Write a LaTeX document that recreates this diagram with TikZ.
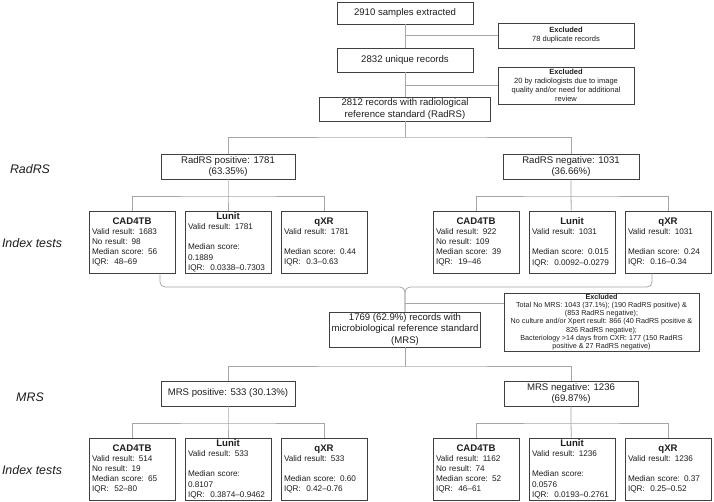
\documentclass[tikz,border=0pt]{standalone}
\usepackage{fontspec}
\setmainfont{Liberation Sans}
\usetikzlibrary{calc}

% title line of a test box, centred, then the left aligned lines
\newcommand{\testtext}[2]{{\centering\fontsize{9.6}{10.2}\selectfont\bfseries #1\par}#2}

\begin{document}
\begin{tikzpicture}[x=1pt,y=-1pt,line join=miter,
  box/.style={draw=boxln,line width=0.75pt,fill=white,text=txt,align=center,
    inner xsep=2pt,inner ysep=0.8pt,font=\fontsize{9.6}{11.2}\selectfont},
  exbox/.style={box,font=\fontsize{7.5}{9}\selectfont},
  testbox/.style={box,align=left,text width=80pt,minimum height=62pt,
    inner xsep=3pt,inner ysep=0.5pt,font=\fontsize{8.2}{10.2}\selectfont},
  tier/.style={text=txt,font=\itshape\fontsize{12.4}{14}\selectfont},
  link/.style={draw=lnk,line width=0.8pt}]
  \definecolor{boxln}{HTML}{404040}
  \definecolor{lnk}{HTML}{A6A6A6}
  \definecolor{txt}{HTML}{1E1E1E}

  \fill[white] (0,0) rectangle (714,502);
  \useasboundingbox (0,0) rectangle (714,502);

  % tier labels on the left
  \node[tier] (lblRad)  at (30,169) {RadRS};
  \node[tier] (lblIdx1) at (32,243) {Index tests};
  \node[tier] (lblMRS)  at (30,397) {MRS};
  \node[tier] (lblIdx2) at (32,470) {Index tests};

  % selection of records
  \node[box,minimum width=136pt,minimum height=22pt] (n2910) at (405,13) {2910 samples extracted};
  \node[exbox,minimum width=136pt,minimum height=25pt] (ex78) at (566,35.5)
    {\textbf{Excluded}\\78 duplicate records};
  \node[box,minimum width=136pt,minimum height=24pt] (n2832) at (405,60) {2832 unique records};
  \node[exbox,minimum width=136pt,minimum height=37pt] (ex20) at (566,85.5)
    {\textbf{Excluded}\\20 by radiologists due to image\\quality and/or need for additional\\review};
  \node[box,minimum width=171pt,minimum height=24pt] (n2812) at (405,109)
    {2812 records with radiological\\reference standard (RadRS)};

  % radiological reference standard
  \node[box,minimum width=134pt,minimum height=25pt] (radpos) at (228,166.5) {RadRS positive: 1781\\(63.35\%)};
  \node[box,minimum width=136pt,minimum height=25pt] (radneg) at (571,166.5) {RadRS negative: 1031\\(36.66\%)};

  % index tests, RadRS positive
  \node[testbox] (cadP) at (132,242) {\testtext{CAD4TB}{Valid result: 1683\\No result: 98\\Median score: 56\\IQR:~ 48--69}};
  \node[testbox] (lunP) at (228,242) {\testtext{Lunit}{Valid result: 1781\\[10.2pt]Median score:\\0.1889\\IQR:~ 0.0338--0.7303}};
  \node[testbox] (qxrP) at (324,242) {\testtext{qXR}{Valid result: 1781\\[10.2pt]Median score: 0.44\\IQR:~ 0.3--0.63}};

  % index tests, RadRS negative
  \node[testbox] (cadN) at (476,242) {\testtext{CAD4TB}{Valid result: 922\\No result: 109\\Median score: 39\\IQR:~ 19--46}};
  \node[testbox] (lunN) at (572,242) {\testtext{Lunit}{Valid result: 1031\\[10.2pt]Median score: 0.015\\IQR:~ 0.0092--0.0279}};
  \node[testbox] (qxrN) at (668,242) {\testtext{qXR}{Valid result: 1031\\[10.2pt]Median score: 0.24\\IQR:~ 0.16--0.34}};

  % microbiological reference standard
  \node[box,minimum width=147pt,minimum height=35pt] (mrs) at (405,329.5)
    {1769 (62.9\%) records with\\microbiological reference standard\\(MRS)};
  \node[exbox,minimum width=195pt,minimum height=58pt,inner ysep=0.3pt,
    font=\fontsize{7.2}{8.2}\selectfont] (exMRS) at (601.5,322)
    {\textbf{Excluded}\\Total No MRS: 1043 (37.1\%); (190 RadRS positive) \&\\(853 RadRS negative);\\
     No culture and/or Xpert result: 866 (40 RadRS positive \&\\826 RadRS negative);\\
     Bacteriology >14 days from CXR: 177 (150 RadRS\\positive \& 27 RadRS negative)};
  \node[box,minimum width=134pt,minimum height=25pt] (mrspos) at (228,393.5) {MRS positive: 533 (30.13\%)};
  \node[box,minimum width=134pt,minimum height=25pt] (mrsneg) at (571,393.5) {MRS negative: 1236\\(69.87\%)};

  % index tests, MRS positive
  \node[testbox] (cadMP) at (132,469) {\testtext{CAD4TB}{Valid result: 514\\No result: 19\\Median score: 65\\IQR:~ 52--80}};
  \node[testbox] (lunMP) at (228,469) {\testtext{Lunit}{Valid result: 533\\[10.2pt]Median score:\\0.8107\\IQR:~ 0.3874--0.9462}};
  \node[testbox] (qxrMP) at (324,469) {\testtext{qXR}{Valid result: 533\\[10.2pt]Median score: 0.60\\IQR:~ 0.42--0.76}};

  % index tests, MRS negative
  \node[testbox] (cadMN) at (476,469) {\testtext{CAD4TB}{Valid result: 1162\\No result: 74\\Median score: 52\\IQR:~ 46--61}};
  \node[testbox] (lunMN) at (572,469) {\testtext{Lunit}{Valid result: 1236\\[10.2pt]Median score:\\0.0576\\IQR:~ 0.0193--0.2761}};
  \node[testbox] (qxrMN) at (668,469) {\testtext{qXR}{Valid result: 1236\\[10.2pt]Median score: 0.37\\IQR:~ 0.25--0.52}};

  % branch points
  \coordinate (splitRad)  at (405,137);
  \coordinate (splitRadP) at (228,196);
  \coordinate (splitRadN) at (571,196);
  \coordinate (joinMRS)   at (405,287);
  \coordinate (splitEx)   at (405,303);
  \coordinate (splitMRS)  at (405,366);
  \coordinate (splitMRSP) at (228,423);
  \coordinate (splitMRSN) at (571,423);

  % connectors, top part
  \draw[link] (n2910) -- (n2832);
  \draw[link] (n2910.south |- ex78.west) -- (ex78.west);
  \draw[link] (n2832) -- (n2812);
  \draw[link] (n2832.south |- ex20.west) -- (ex20.west);
  \draw[link] (n2812) -- (splitRad);
  \draw[link] (radpos.north) |- (splitRad) -| (radneg.north);

  % connectors to the index tests
  \draw[link] (radpos) -- (splitRadP) -- (lunP);
  \draw[link] (cadP.north) |- (splitRadP) -| (qxrP.north);
  \draw[link] (radneg) -- (splitRadN) -- (lunN);
  \draw[link] (cadN.north) |- (splitRadN) -| (qxrN.north);

  % merge into MRS
  \draw[link,rounded corners=5pt] ([xshift=28pt]cadP.south) |- (joinMRS) -- (mrs.north);
  \draw[link,rounded corners=5pt] ([xshift=-16pt]qxrN.south) |- (joinMRS) -- (mrs.north);
  \draw[link] (splitEx) -- (splitEx -| exMRS.west);
  \draw[link] (mrs) -- (splitMRS);
  \draw[link] (mrspos.north) |- (splitMRS) -| (mrsneg.north);

  \draw[link] (mrspos) -- (splitMRSP) -- (lunMP);
  \draw[link] (cadMP.north) |- (splitMRSP) -| (qxrMP.north);
  \draw[link] (mrsneg) -- (splitMRSN) -- (lunMN);
  \draw[link] (cadMN.north) |- (splitMRSN) -| (qxrMN.north);
\end{tikzpicture}
\end{document}
